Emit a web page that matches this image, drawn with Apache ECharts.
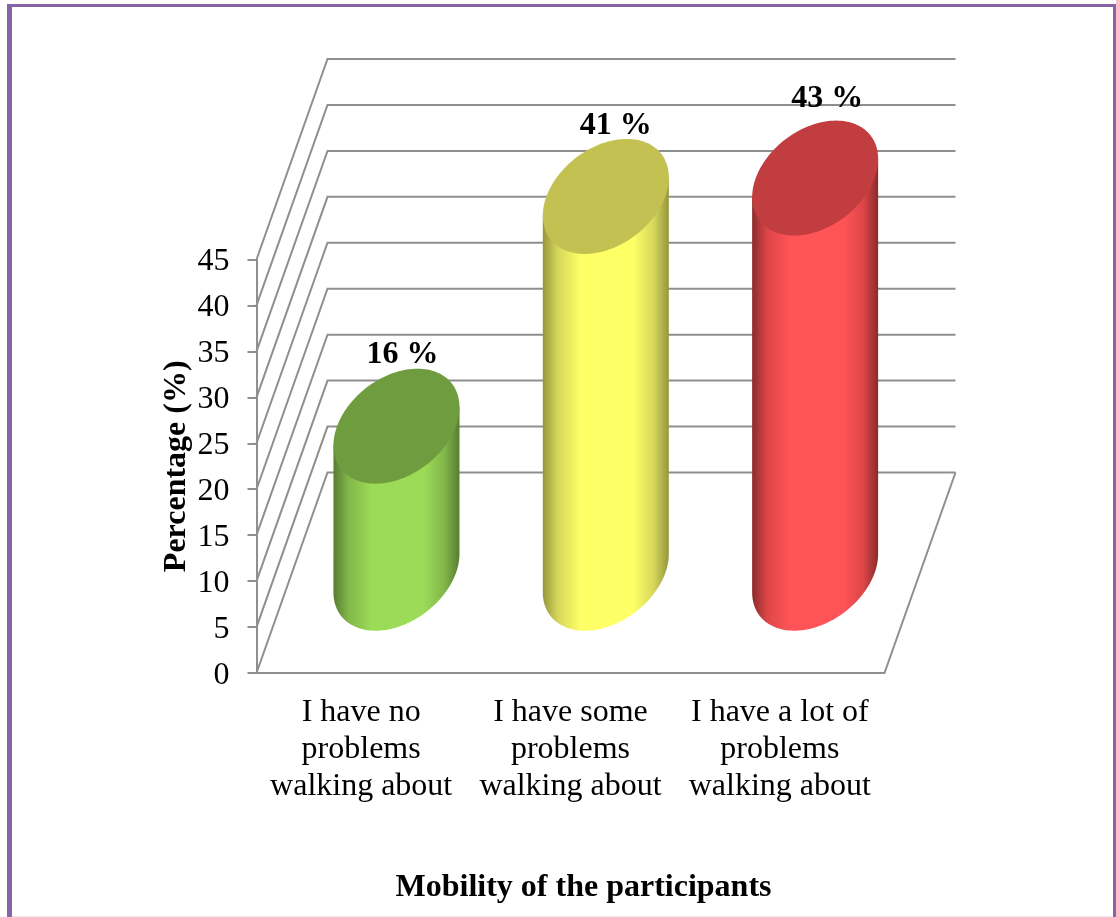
<!DOCTYPE html>
<html>
<head>
<meta charset="utf-8">
<style>html,body{margin:0;padding:0;background:#fff}#c{width:1116px;height:917px}</style>
<script src="https://cdn.jsdelivr.net/npm/echarts@6/dist/echarts.min.js"></script>
</head>
<body>
<div id="c"></div>
<script>
const categories = ['I have no\nproblems\nwalking about', 'I have some\nproblems\nwalking about', 'I have a lot of\nproblems\nwalking about'];
const percentages = [16, 41, 43];
const valueTicks = [0, 5, 10, 15, 20, 25, 30, 35, 40, 45];
const chartTitle = 'Mobility of the participants';
const valueTitle = 'Percentage (%)';

const FONT = '"Liberation Serif","Times New Roman",serif';
const GRID_C = '#8f8f8f';
const DEPTH = [71, -200.5];          // perspective shift front plane -> back wall
const BAR_SHIFT = [35.3, -99.8];     // bar base centre relative to its front-plane position
const CAP_A = 59.4, CAP_BX = 21, CAP_BY = 57.5; // projected disc axes
const barLooks = [
  {cap: '#6f9c3e', edge: '#587d31', soft: '#82b74a', mid: '#9bdb57', labelDx: 6, labelDy: -71.5},
  {cap: '#c2c152', edge: '#96963c', soft: '#d6d65c', mid: '#ffff66', labelDx: 10, labelDy: -70.5},
  {cap: '#c23d3f', edge: '#8a2b2c', soft: '#dd4648', mid: '#ff5457', labelDx: 12, labelDy: -79.5}
];

const chart = echarts.init(document.getElementById('c'), null, {renderer: 'canvas'});

function capPoint(c, t) {
  return [c[0] + CAP_A * Math.cos(t) + CAP_BX * Math.sin(t), c[1] - CAP_BY * Math.sin(t)];
}
const T0 = Math.atan2(CAP_BX, CAP_A);

function renderWall(params, api) {
  const cs = params.coordSys;
  const y = api.coord([0, api.value(1)])[1];
  const x = cs.x;
  const children = [{
    type: 'polyline',
    shape: {points: [[x, y], [x + DEPTH[0], y + DEPTH[1]], [x + cs.width + DEPTH[0], y + DEPTH[1]]]},
    style: {stroke: GRID_C, lineWidth: 2, fill: null}
  }];
  if (api.value(1) === 0) {
    children.push({
      type: 'line',
      shape: {x1: x + cs.width, y1: y, x2: x + cs.width + DEPTH[0], y2: y + DEPTH[1]},
      style: {stroke: GRID_C, lineWidth: 2}
    });
  }
  return {type: 'group', children};
}
function renderBar(params, api) {
  const i = api.value(0), v = api.value(1);
  const look = barLooks[i];
  const front0 = api.coord([i, 0]), frontV = api.coord([i, v]);
  const base = [front0[0] + BAR_SHIFT[0], front0[1] + BAR_SHIFT[1]];
  const top = [frontV[0] + BAR_SHIFT[0], frontV[1] + BAR_SHIFT[1]];
  const N = 72, body = [];
  body.push(capPoint(top, T0));
  body.push(capPoint(top, T0 - Math.PI));
  for (let k = 0; k <= N; k++) {
    body.push(capPoint(base, T0 - Math.PI + Math.PI * k / N));
  }
  const cap = [];
  for (let k = 0; k < N * 2; k++) cap.push(capPoint(top, Math.PI * k / N));
  return {
    type: 'group',
    children: [
      {
        type: 'polygon', shape: {points: body},
        style: {fill: new echarts.graphic.LinearGradient(0, 0, 1, 0, [
          {offset: 0, color: look.edge},
          {offset: 0.12, color: look.soft},
          {offset: 0.3, color: look.mid},
          {offset: 0.72, color: look.mid},
          {offset: 0.88, color: look.soft},
          {offset: 1, color: look.edge}
        ])}
      },
      {type: 'polygon', shape: {points: cap}, style: {fill: look.cap}},
      {
        type: 'text',
        x: top[0] + look.labelDx, y: top[1] + look.labelDy,
        style: {text: v + ' %', font: 'bold 32px ' + FONT, fill: '#000', align: 'center', verticalAlign: 'middle'}
      }
    ]
  };
}

chart.setOption({
  animation: false,
  backgroundColor: '#fff',
  title: {
    text: chartTitle, left: 578.5, top: 867,
    textAlign: 'center',
    textStyle: {fontFamily: FONT, fontSize: 32, fontWeight: 'bold', color: '#000'}
  },
  grid: {left: 256.5, top: 259.5, width: 628, height: 413.5, containLabel: false},
  xAxis: {
    type: 'category', data: categories,
    axisLine: {lineStyle: {color: GRID_C, width: 2}},
    axisTick: {show: false},
    axisLabel: {interval: 0, margin: 21, fontFamily: FONT, fontSize: 32, lineHeight: 37, color: '#000'}
  },
  yAxis: {
    type: 'value', min: 0, max: 45, interval: 5,
    name: valueTitle, nameLocation: 'middle', nameGap: 64, nameMoveOverlap: false,
    nameTextStyle: {fontFamily: FONT, fontSize: 32, fontWeight: 'bold', color: '#000'},
    axisLine: {show: true, lineStyle: {color: GRID_C, width: 2}},
    axisTick: {show: true, length: 9, lineStyle: {color: GRID_C, width: 2}},
    axisLabel: {margin: 27, verticalAlign: 'top', lineHeight: 5, fontFamily: FONT, fontSize: 32, color: '#000'},
    splitLine: {show: false}
  },
  graphic: [
    {type: 'rect', shape: {x: 7, y: 4, width: 5, height: 913}, style: {fill: '#8764a8'}, z: 10},
    {type: 'rect', shape: {x: 7, y: 4, width: 1109, height: 3}, style: {fill: '#8764a8'}, z: 10},
    {type: 'rect', shape: {x: 1113, y: 4, width: 3, height: 913}, style: {fill: '#8764a8'}, z: 10},
    {type: 'rect', shape: {x: 12, y: 916, width: 1101, height: 1}, style: {fill: '#eeeeee'}, z: 10}
  ],
  series: [
    {
      type: 'custom', name: 'wall', clip: false, z: 1, silent: true,
      renderItem: renderWall, encode: {x: 0, y: 1},
      data: valueTicks.map(t => [0, t])
    },
    {
      type: 'custom', name: 'Percentage', clip: false, z: 3, silent: true,
      renderItem: renderBar, encode: {x: 0, y: 1},
      data: percentages.map((p, i) => [i, p])
    }
  ]
});
</script>
</body>
</html>
